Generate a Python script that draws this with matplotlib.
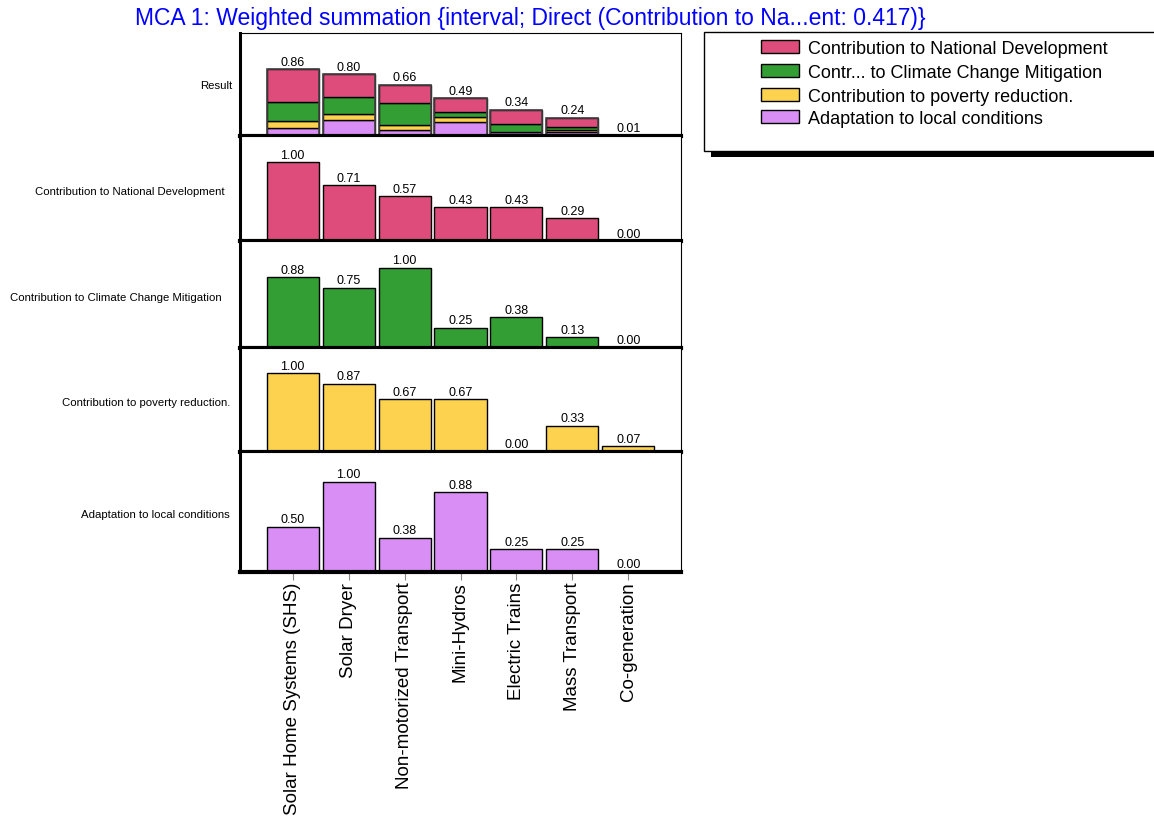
import matplotlib
matplotlib.use("Agg")
import matplotlib.pyplot as plt
from matplotlib.patches import Rectangle
import numpy as np

alternatives = ["Solar Home Systems (SHS)", "Solar Dryer", "Non-motorized Transport",
                "Mini-Hydros", "Electric Trains", "Mass Transport", "Co-generation"]
criteria = ["Contribution to National Development", "Contribution to Climate Change Mitigation",
            "Contribution to poverty reduction.", "Adaptation to local conditions"]
legend_labels = ["Contribution to National Development", "Contr... to Climate Change Mitigation",
                 "Contribution to poverty reduction.", "Adaptation to local conditions"]
weights = [0.417, 0.284, 0.087, 0.212]
national = [1.00, 0.71, 0.57, 0.43, 0.43, 0.29, 0.00]
climate = [0.88, 0.75, 1.00, 0.25, 0.38, 0.13, 0.00]
poverty = [1.00, 0.87, 0.67, 0.67, 0.00, 0.33, 0.07]
adaptation = [0.50, 1.00, 0.38, 0.88, 0.25, 0.25, 0.00]
result = [0.86, 0.80, 0.66, 0.49, 0.34, 0.24, 0.01]
colors = ["#DE4C7C", "#339E33", "#FCD24E", "#D98EF5"]
title = "MCA 1: Weighted summation {interval; Direct (Contribution to Na...ent: 0.417)}"

SANS = ["Liberation Sans", "DejaVu Sans"]

fig = plt.figure(figsize=(11.54, 8.29), dpi=100)
gs = fig.add_gridspec(5, 1, left=240/1154, right=681/1154, top=1-34/829, bottom=1-573/829,
                      hspace=0, height_ratios=[103, 105, 106, 104, 120])
axes = [fig.add_subplot(gs[i]) for i in range(5)]
x = np.arange(len(alternatives))
width = 0.93
scores = [national, climate, poverty, adaptation]

def style(ax, last):
    ax.set_xlim(-0.94, 6.94)
    ax.set_ylim(0, 1.33)
    ax.set_yticks([])
    for s in ["top", "right"]:
        ax.spines[s].set_linewidth(0.8)
    ax.spines["left"].set_linewidth(2.2)
    ax.spines["bottom"].set_linewidth(3)
    if last:
        ax.set_xticks(x)
        ax.set_xticklabels(alternatives, rotation=90, fontsize=13.5, family=SANS, va="top")
        ax.tick_params(axis="x", length=6, width=0.8, color="#888888", pad=1)
    else:
        ax.set_xticks([])

# Result panel: stacked weighted contributions
ax = axes[0]
bottom = np.zeros(len(x))
order = [3, 2, 1, 0]
for k in order:
    vals = np.array(scores[k]) * weights[k]
    ax.bar(x, vals, width, bottom=bottom, color=colors[k], edgecolor="black", linewidth=1.0)
    bottom += vals
ax.bar(x, result, width, fill=False, edgecolor="#444444", linewidth=1.2)
for xi, v in zip(x, result):
    ax.text(xi, v + 0.02, f"{v:.2f}", ha="center", va="bottom", fontsize=9, family=SANS)
style(ax, False)

for i, k in enumerate(range(4)):
    ax = axes[i + 1]
    vals = scores[k]
    ax.bar(x, vals, width, color=colors[k], edgecolor="black", linewidth=1.0)
    for xi, v in zip(x, vals):
        ax.text(xi, v + 0.02, f"{v:.2f}", ha="center", va="bottom", fontsize=9, family=SANS)
    style(ax, i == 3)

row_labels = ["Result"] + criteria
row_y = [0.5, 0.48, 0.48, 0.48, 0.48]
row_right = [232, 225, 222, 230, 230]
for ax, lab, yy, xr in zip(axes, row_labels, row_y, row_right):
    ax.text(xr/1154, yy, lab, transform=ax.get_yaxis_transform().__class__(fig.transFigure, ax.transAxes),
            ha="right", va="center", fontsize=8.2, family=SANS)

fig.text(135/1154, 1-19/829, title, color="#0000FF", fontsize=16.5, family=SANS,
         ha="left", va="center")

# Legend with shadow
fw, fh = 1154, 829
shadow = Rectangle((711/fw, 1-158/fh), (1160-711)/fw, (158-40)/fh, transform=fig.transFigure,
                   facecolor="black", edgecolor="none")
box = Rectangle((704/fw, 1-152/fh), (1160-704)/fw, (152-33)/fh, transform=fig.transFigure,
                facecolor="white", edgecolor="black", linewidth=1.0)
fig.patches.extend([shadow, box])
ys = [48, 72, 96, 118]
for lab, c, yy in zip(legend_labels, colors, ys):
    fig.patches.append(Rectangle((761/fw, 1-(yy+6)/fh), 38/fw, 13/fh, transform=fig.transFigure,
                                 facecolor=c, edgecolor="black", linewidth=1.0))
    fig.text(808/fw, 1-yy/fh, lab, fontsize=13, family=SANS, ha="left", va="center_baseline")

fig.savefig("out.png", dpi=100)
